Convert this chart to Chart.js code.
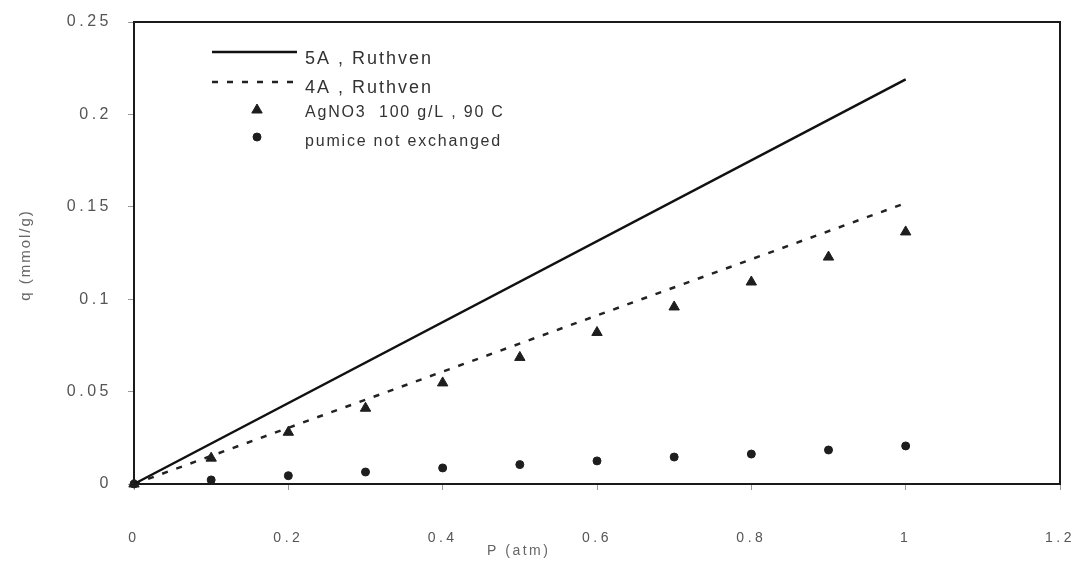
<!DOCTYPE html>
<html>
<head>
<meta charset="utf-8">
<script src="https://cdn.jsdelivr.net/npm/chart.js@4/dist/chart.umd.min.js"></script>
<style>
  body { margin: 0; background: #fff; }
  #wrap { width: 1077px; height: 564px; }
</style>
</head>
<body>
<div id="wrap"><canvas id="qChart"></canvas></div>
<script>
// ==== Data ====
const pressure = [0, 0.1, 0.2, 0.3, 0.4, 0.5, 0.6, 0.7, 0.8, 0.9, 1.0];
const agno3Q = [0, 0.014, 0.028, 0.041, 0.0547, 0.0685, 0.082, 0.0958, 0.1093, 0.1228, 0.1364];
const pumiceQ = [0, 0.0022, 0.0045, 0.0065, 0.0087, 0.0105, 0.0125, 0.0146, 0.0162, 0.0184, 0.0206];
const ruthvenP = [0, 1];
const ruthven5A = [0, 0.219];
const ruthven4A = [0, 0.152];

const xTicks = [0, 0.2, 0.4, 0.6, 0.8, 1, 1.2];
const yTicks = [0, 0.05, 0.1, 0.15, 0.2, 0.25];

const seriesLabels = ["5A , Ruthven", "4A , Ruthven", "AgNO3  100 g/L , 90 C", "pumice not exchanged"];
const xTitle = "P (atm)";
const yTitle = "q (mmol/g)";

const toPoints = (xs, ys) => xs.map((x, i) => ({ x: x, y: ys[i] }));
const fmt = v => String(+Number(v).toFixed(3));

// ==== Plugins ====
// wide letter spacing on tick text, but keep layout measurements plain
const spacingPlugin = {
  id: "spacing",
  beforeLayout(chart) {
    chart.ctx.letterSpacing = "0px";
  },
  beforeDraw(chart) {
    chart.ctx.letterSpacing = "3.5px";
  }
};

const framePlugin = {
  id: "frame",
  afterDraw(chart) {
    const { ctx, chartArea: a } = chart;
    ctx.save();
    ctx.letterSpacing = "0px";
    ctx.strokeStyle = "#1a1a1a";
    ctx.lineWidth = 2;
    ctx.strokeRect(a.left, a.top, a.right - a.left, a.bottom - a.top);

    // axis titles
    ctx.fillStyle = "#666";
    ctx.font = "14px 'Liberation Sans', Arial, sans-serif";
    ctx.letterSpacing = "2.5px";
    ctx.textAlign = "left";
    ctx.textBaseline = "middle";
    ctx.fillText(xTitle, 487, 551);

    ctx.translate(26, 255);
    ctx.rotate(-Math.PI / 2);
    ctx.font = "15px 'Liberation Sans', Arial, sans-serif";
    ctx.letterSpacing = "2px";
    ctx.textAlign = "center";
    ctx.fillText(yTitle, 0, 0);
    ctx.restore();
  }
};

const legendPlugin = {
  id: "boxLegend",
  afterDraw(chart) {
    const ctx = chart.ctx;
    const ds = chart.data.datasets;
    ctx.save();
    ctx.textAlign = "left";
    ctx.textBaseline = "middle";
    ctx.fillStyle = "#333";

    // line entries
    [[0, 52, 59], [1, 82, 88]].forEach(([i, ly, ty]) => {
      ctx.letterSpacing = "0px";
      ctx.beginPath();
      ctx.strokeStyle = ds[i].borderColor;
      ctx.lineWidth = ds[i].borderWidth;
      ctx.setLineDash(ds[i].borderDash || []);
      ctx.moveTo(212, ly);
      ctx.lineTo(297, ly);
      ctx.stroke();
      ctx.setLineDash([]);
      ctx.font = "18px 'Liberation Sans', Arial, sans-serif";
      ctx.letterSpacing = "2px";
      ctx.fillText(ds[i].label, 305, ty);
    });

    // marker entries
    [[2, 110, 113], [3, 137, 142]].forEach(([i, my, ty]) => {
      ctx.letterSpacing = "0px";
      ctx.fillStyle = ds[i].backgroundColor;
      ctx.strokeStyle = ds[i].borderColor;
      ctx.lineWidth = 1;
      Chart.helpers.drawPoint(ctx, {
        pointStyle: ds[i].pointStyle,
        radius: ds[i].pointRadius,
        borderWidth: 1,
        rotation: 0
      }, 257, my);
      ctx.fillStyle = "#333";
      ctx.font = "16px 'Liberation Sans', Arial, sans-serif";
      ctx.letterSpacing = "1.8px";
      ctx.fillText(ds[i].label, 305, ty);
    });
    ctx.restore();
  }
};

// ==== Chart ====
const ctx = document.getElementById("qChart").getContext("2d");
const chart = new Chart(ctx, {
  type: "scatter",
  data: {
    datasets: [
      {
        label: seriesLabels[0],
        data: toPoints(ruthvenP, ruthven5A),
        showLine: true,
        borderColor: "#111",
        borderWidth: 2.5,
        pointRadius: 0,
        clip: false
      },
      {
        label: seriesLabels[1],
        data: toPoints(ruthvenP, ruthven4A),
        showLine: true,
        borderColor: "#222",
        borderWidth: 2.5,
        borderDash: [6, 9],
        pointRadius: 0,
        clip: false
      },
      {
        label: seriesLabels[2],
        data: toPoints(pressure, agno3Q),
        pointStyle: "triangle",
        pointRadius: 6,
        backgroundColor: "#1e1e1e",
        borderColor: "#1e1e1e",
        borderWidth: 1,
        clip: false
      },
      {
        label: seriesLabels[3],
        data: toPoints(pressure, pumiceQ),
        pointStyle: "circle",
        pointRadius: 4,
        backgroundColor: "#1e1e1e",
        borderColor: "#1e1e1e",
        borderWidth: 1,
        clip: false
      }
    ]
  },
  options: {
    responsive: true,
    maintainAspectRatio: false,
    animation: false,
    layout: { padding: { top: 22, right: 17, left: 0, bottom: 0 } },
    plugins: {
      legend: { display: false },
      tooltip: { enabled: false }
    },
    scales: {
      x: {
        type: "linear",
        min: xTicks[0],
        max: xTicks[xTicks.length - 1],
        afterBuildTicks: s => { s.ticks = xTicks.map(v => ({ value: v })); },
        ticks: {
          padding: 40,
          color: "#555",
          font: { family: "'Liberation Sans', Arial, sans-serif", size: 14 },
          maxRotation: 0,
          callback: fmt
        },
        grid: { drawOnChartArea: false, drawTicks: true, tickLength: 6, color: "#999" },
        border: { display: false },
        afterFit: s => { s.height = 80; s.paddingLeft = 0; s.paddingRight = 0; }
      },
      y: {
        type: "linear",
        min: yTicks[0],
        max: yTicks[yTicks.length - 1],
        afterBuildTicks: s => { s.ticks = yTicks.map(v => ({ value: v })); },
        ticks: {
          padding: 16,
          color: "#555",
          font: { family: "'Liberation Sans', Arial, sans-serif", size: 16 },
          callback: fmt
        },
        grid: { drawOnChartArea: false, drawTicks: true, tickLength: 6, color: "#999" },
        border: { display: false },
        afterFit: s => { s.width = 134; s.paddingTop = 0; s.paddingBottom = 0; }
      }
    }
  },
  plugins: [spacingPlugin, framePlugin, legendPlugin]
});
</script>
</body>
</html>
